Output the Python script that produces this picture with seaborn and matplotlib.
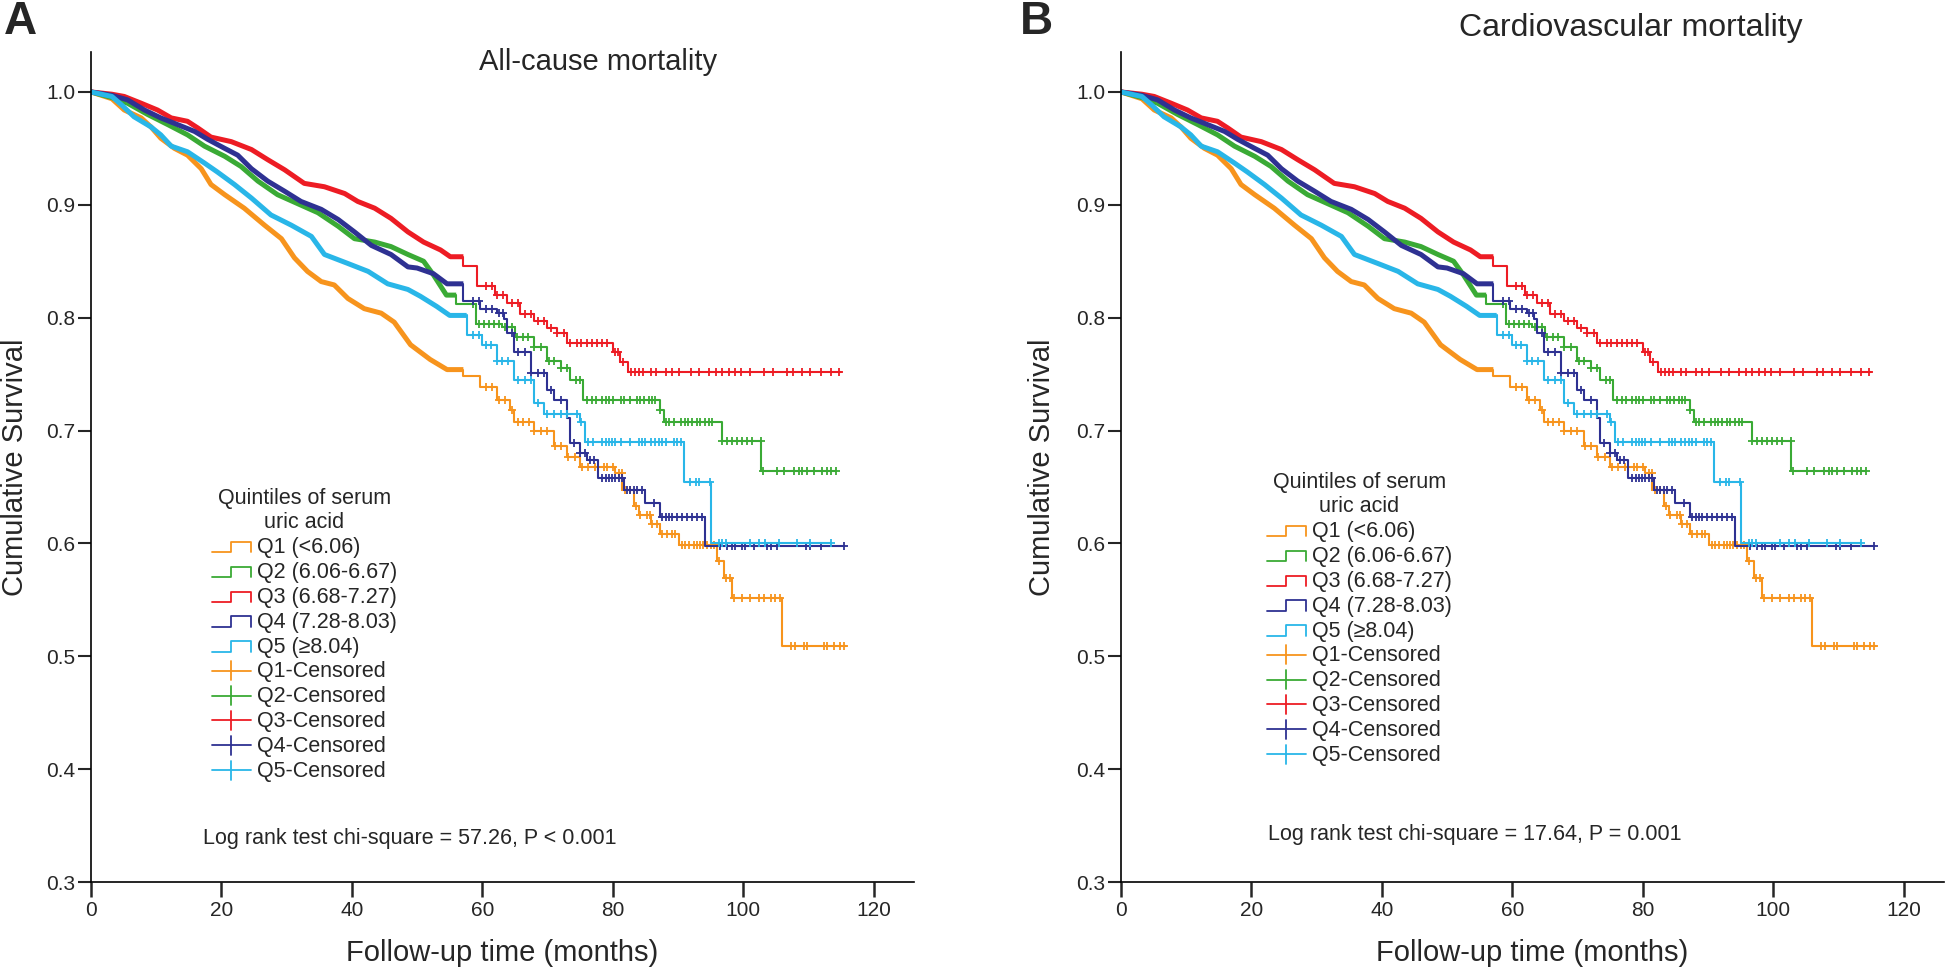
import numpy as np
import matplotlib
matplotlib.use("Agg")
import matplotlib.pyplot as plt
from matplotlib.lines import Line2D
from matplotlib.legend_handler import HandlerBase
import seaborn as sns

# Kaplan-Meier step curves (time in months, cumulative survival)
q1_t = [0, 3.2, 5.1, 7.7, 9.2, 10.7, 12.8, 14.8, 16.9, 18.4, 20.5, 23.5, 26.6, 29.2, 31.2, 33.2,
        35.3, 37.3, 39.4, 41.9, 44.5, 46.5, 49.0, 52.0, 54.6, 57.1, 59.7, 62.2, 64.3, 64.8, 68.0,
        71.0, 73.0, 75.0, 80.4, 81.5, 83.2, 84.0, 85.8, 87.3, 90.2, 96.0, 97.1, 98.3, 106.0, 115.7]
q1_s = [1.0, 0.994, 0.984, 0.977, 0.969, 0.959, 0.950, 0.944, 0.932, 0.918, 0.909, 0.897, 0.882,
        0.870, 0.853, 0.841, 0.832, 0.829, 0.817, 0.808, 0.804, 0.796, 0.776, 0.763, 0.754, 0.748,
        0.739, 0.727, 0.718, 0.708, 0.700, 0.686, 0.677, 0.668, 0.662, 0.647, 0.633, 0.625, 0.617,
        0.608, 0.599, 0.584, 0.569, 0.552, 0.509, 0.509]

q2_t = [0, 3.2, 5.6, 8.7, 11.8, 14.8, 17.4, 20.5, 23.0, 25.6, 28.6, 31.7, 34.8, 37.9, 40.4, 43.5,
        46.0, 48.6, 51.0, 52.5, 54.5, 56.0, 59.0, 63.0, 65.0, 68.0, 70.0, 72.0, 73.5, 75.5, 87.3,
        87.8, 96.8, 102.8, 114.2]
q2_s = [1.0, 0.995, 0.990, 0.980, 0.971, 0.962, 0.952, 0.943, 0.934, 0.921, 0.909, 0.901, 0.893,
        0.881, 0.870, 0.867, 0.863, 0.856, 0.850, 0.838, 0.820, 0.812, 0.794, 0.792, 0.783, 0.774,
        0.762, 0.755, 0.745, 0.727, 0.718, 0.708, 0.691, 0.664, 0.664]

q3_t = [0, 3.2, 5.1, 7.7, 10.2, 12.3, 14.8, 16.4, 18.4, 21.5, 24.6, 27.1, 29.7, 32.7, 35.8, 38.9,
        40.9, 43.5, 46.0, 48.6, 51.0, 53.6, 55.1, 57.1, 59.2, 62.0, 63.8, 65.8, 68.0, 69.9, 71.5,
        73.0, 80.0, 81.1, 82.4, 115.0]
q3_s = [1.0, 0.998, 0.996, 0.990, 0.984, 0.977, 0.974, 0.968, 0.960, 0.956, 0.949, 0.940, 0.931,
        0.919, 0.916, 0.910, 0.903, 0.897, 0.888, 0.876, 0.867, 0.860, 0.854, 0.846, 0.828, 0.820,
        0.813, 0.803, 0.797, 0.791, 0.786, 0.778, 0.770, 0.761, 0.752, 0.752]

q4_t = [0, 3.2, 5.6, 8.2, 10.7, 13.3, 15.9, 17.9, 20.5, 22.5, 24.6, 27.1, 29.7, 32.2, 35.3, 37.9,
        40.4, 43.0, 46.0, 48.6, 50.0, 52.5, 54.6, 57.1, 59.7, 62.2, 63.3, 63.8, 64.8, 67.4, 70.0,
        71.0, 73.0, 73.5, 75.0, 76.0, 77.8, 81.8, 85.0, 87.2, 94.2, 115.4]
q4_s = [1.0, 0.997, 0.993, 0.984, 0.977, 0.971, 0.965, 0.958, 0.950, 0.944, 0.932, 0.921, 0.912,
        0.903, 0.896, 0.887, 0.876, 0.864, 0.856, 0.845, 0.844, 0.839, 0.830, 0.815, 0.808, 0.804,
        0.799, 0.786, 0.770, 0.751, 0.736, 0.727, 0.711, 0.689, 0.680, 0.674, 0.658, 0.647, 0.636,
        0.623, 0.598, 0.598]

q5_t = [0, 3.2, 4.6, 6.6, 9.2, 10.7, 12.3, 14.8, 17.4, 19.4, 22.0, 24.6, 27.6, 30.7, 33.8, 35.8,
        39.4, 42.5, 45.5, 48.6, 50.5, 53.0, 55.0, 57.6, 60.0, 62.2, 64.8, 67.9, 69.5, 75.0, 75.8,
        91.0, 95.1, 113.5]
q5_s = [1.0, 0.996, 0.989, 0.978, 0.969, 0.962, 0.952, 0.947, 0.937, 0.929, 0.918, 0.906, 0.891,
        0.882, 0.872, 0.856, 0.848, 0.841, 0.830, 0.825, 0.819, 0.810, 0.802, 0.785, 0.776, 0.762,
        0.745, 0.724, 0.715, 0.708, 0.690, 0.654, 0.600, 0.600]

# censored observations that can be told apart (before these the marks merge into a band)
q1_cens = [60.5, 61.5, 62.5, 63.5, 64.5, 65.5, 66.3, 67.2, 68.0, 69.0, 70.0, 71.2, 72.0, 73.2,
           74.2, 75.3, 76.2, 77.3, 78.6, 79.1, 80.1, 80.9, 81.4, 81.9, 82.7, 83.5, 84.2, 85.3,
           85.7, 86.0, 86.8, 87.6, 88.3, 89.1, 89.6, 90.6, 91.1, 91.7, 92.4, 92.9, 93.4, 93.9,
           94.5, 95.0, 95.5, 96.3, 97.3, 98.0, 98.6, 99.8, 101.1, 102.4, 103.2, 104.2, 104.9,
           105.7, 107.3, 108.0, 109.3, 109.8, 112.4, 112.9, 113.9, 114.9, 115.4]
q2_cens = [58.5, 59.5, 60.2, 61.0, 61.8, 62.6, 63.5, 64.5, 65.3, 66.2, 67.0, 68.0, 69.0, 70.2,
           71.0, 72.0, 73.0, 74.3, 75.0, 76.0, 76.8, 77.5, 78.4, 78.9, 79.4, 80.1, 81.2, 81.7,
           82.7, 83.7, 84.2, 84.8, 85.5, 86.0, 86.5, 87.3, 88.1, 88.6, 89.4, 90.4, 91.1, 91.5,
           92.2, 92.9, 93.4, 94.1, 94.7, 95.2, 96.8, 97.5, 98.3, 99.1, 99.8, 100.6, 101.4, 102.7,
           103.1, 105.2, 106.2, 107.8, 108.5, 109.0, 109.8, 110.8, 112.1, 112.9, 113.5, 114.2]
q3_cens = [60.5, 61.5, 62.3, 63.2, 64.5, 65.5, 66.5, 67.5, 68.5, 69.5, 70.5, 71.5, 72.5, 73.5,
           74.5, 75.2, 76.0, 76.8, 77.6, 78.4, 79.2, 80.3, 80.8, 81.6, 82.8, 83.4, 84.0, 84.7,
           85.9, 86.6, 88.2, 89.1, 90.1, 92.0, 93.2, 94.7, 95.9, 96.8, 97.9, 98.8, 99.7, 101.1,
           103.2, 104.6, 106.8, 107.7, 109.1, 110.2, 112.0, 113.4, 114.7]
q4_cens = [58.5, 59.5, 60.5, 61.5, 62.5, 63.2, 64.5, 65.5, 66.5, 67.5, 68.5, 69.5, 70.5, 72.0,
           74.0, 75.0, 75.8, 76.5, 77.2, 78.4, 78.9, 79.4, 79.9, 80.4, 80.9, 81.4, 82.2, 82.7,
           83.2, 83.7, 84.5, 86.3, 87.6, 88.1, 88.6, 89.1, 89.9, 90.6, 91.4, 92.2, 92.9, 93.7,
           96.5, 97.5, 98.3, 98.8, 99.8, 100.3, 101.6, 103.7, 104.2, 105.2, 109.6, 110.3, 111.9,
           115.4]
q5_cens = [58.5, 59.5, 60.5, 61.3, 62.2, 63.0, 64.0, 65.5, 66.5, 67.5, 68.5, 70.0, 71.0, 72.0,
           73.0, 74.5, 75.2, 76.2, 77.0, 78.4, 78.9, 79.4, 79.9, 80.4, 81.2, 82.7, 84.0, 84.5,
           85.0, 85.8, 86.5, 87.1, 87.6, 88.1, 89.4, 89.9, 90.4, 91.9, 92.7, 93.2, 94.9, 96.3,
           96.8, 97.3, 101.1, 102.4, 103.4, 105.5, 108.3, 110.3, 113.4]

# month up to which the censor marks merge into a solid band
band_end = [57.1, 56.0, 57.1, 57.1, 57.6]

group_labels = ["Q1 (<6.06)", "Q2 (6.06-6.67)", "Q3 (6.68-7.27)", "Q4 (7.28-8.03)", "Q5 (\u22658.04)"]
censor_labels = ["Q1-Censored", "Q2-Censored", "Q3-Censored", "Q4-Censored", "Q5-Censored"]
colors = ["#F7941D", "#3AAA35", "#ED1C24", "#2E3192", "#29B6E8"]

panel_titles = ["All-cause mortality", "Cardiovascular mortality"]
panel_letters = ["A", "B"]
logrank_texts = ["Log rank test chi-square = 57.26, P < 0.001",
                 "Log rank test chi-square = 17.64, P = 0.001"]

curves = [(q1_t, q1_s, q1_cens), (q2_t, q2_s, q2_cens), (q3_t, q3_s, q3_cens),
          (q4_t, q4_s, q4_cens), (q5_t, q5_s, q5_cens)]

sns.set_style("white")
plt.rcParams["font.family"] = ["Liberation Sans", "DejaVu Sans"]


class StepHandler(HandlerBase):
    def create_artists(self, legend, orig, xd, yd, w, h, fontsize, trans):
        x0, x1 = -xd, -xd + w
        xm = x0 + 0.5 * w
        lo, hi = -yd + 0.05 * h, -yd + 0.75 * h
        ln = Line2D([x0, xm, xm, x1, x1], [lo, lo, hi, hi, lo], color=orig.get_color(),
                    lw=orig.get_linewidth(), transform=trans)
        return [ln]


class CensorHandler(HandlerBase):
    def create_artists(self, legend, orig, xd, yd, w, h, fontsize, trans):
        ym = -yd + 0.45 * h
        xm = -xd + 0.5 * w
        a = Line2D([-xd, -xd + w], [ym, ym], color=orig.get_color(), lw=orig.get_linewidth(),
                   transform=trans)
        b = Line2D([xm, xm], [ym - 0.44 * fontsize, ym + 0.44 * fontsize], color=orig.get_color(),
                   lw=orig.get_linewidth(), transform=trans)
        return [a, b]


W, H = 1946, 971
fig = plt.figure(figsize=(W / 100, H / 100), dpi=100)

ax_left = [91, 1121]
legend_pos = [(212, 488), (1267, 472)]
title_pos = [(598, 62, 21), (1631, 28, 23)]
letter_x = [4, 1020]
ylabel_x = [15, 1042]
logrank_x = [0.136, 0.179]
logrank_y = [0.052, 0.057]

for p in range(2):
    ax = fig.add_axes([ax_left[p] / W, 89 / H, 823 / W, 830 / H])
    for i, (t, s, cens) in enumerate(curves):
        t = np.array(t)
        s = np.array(s)
        m = t < band_end[i]
        # early part: many tiny steps plus merged censor marks read as a thick band
        tb = np.append(t[m], band_end[i])
        sb = np.append(s[m], s[m][-1])
        sns.lineplot(x=tb, y=sb, color=colors[i], linewidth=3.6, estimator=None, sort=False,
                     ax=ax, legend=False, solid_joinstyle="round", solid_capstyle="butt")
        # later part: plain steps
        tl = np.insert(t[~m], 0, band_end[i])
        sl = np.insert(s[~m], 0, s[m][-1])
        sns.lineplot(x=tl, y=sl, drawstyle="steps-post", color=colors[i], linewidth=1.5,
                     estimator=None, sort=False, ax=ax, legend=False)
        c = np.array(cens)
        sc = s[np.searchsorted(t, c, side="right") - 1]
        ax.plot(c, sc, ls="none", marker="+", ms=5.5, mew=1.3, color=colors[i])

    ax.set_xlim(0, 126.2)
    ax.set_ylim(0.3, 1.0354)
    ax.set_xticks(np.arange(0, 121, 20))
    ax.set_yticks(np.arange(0.3, 1.01, 0.1))
    ax.set_yticklabels([f"{v:.1f}" for v in np.arange(0.3, 1.01, 0.1)])
    sns.despine(ax=ax)
    for sp in ("left", "bottom"):
        ax.spines[sp].set_linewidth(1.2)
        ax.spines[sp].set_color("black")
    ax.tick_params(axis="y", direction="out", length=9.4, width=1.5, pad=2, labelsize=15,
                   left=True)
    ax.tick_params(axis="x", direction="out", length=10.8, width=1.8, pad=3, labelsize=15,
                   bottom=True)
    ax.set_ylabel("Cumulative Survival", fontsize=21, va="center")
    ax.yaxis.set_label_coords((ylabel_x[p] - ax_left[p]) / 823, 0.5)
    ax.set_xlabel("Follow-up time (months)", fontsize=21, va="center")
    ax.xaxis.set_label_coords(0.5, -0.0855)

    ax.text(logrank_x[p], logrank_y[p], logrank_texts[p], transform=ax.transAxes,
            fontsize=15.5, ha="left", va="center")

    step_h = [Line2D([], [], color=col, lw=1.3) for col in colors]
    cens_h = [Line2D([], [], color=col, lw=1.3) for col in colors]
    hmap = {h: StepHandler() for h in step_h}
    hmap.update({h: CensorHandler() for h in cens_h})
    lx, ly = legend_pos[p]
    leg = ax.legend(step_h + cens_h, group_labels + censor_labels, handler_map=hmap,
                    title="Quintiles of serum\nuric acid", fontsize=15.5, title_fontsize=15.5,
                    frameon=False, loc="upper left", bbox_to_anchor=(lx / W, 1 - ly / H),
                    bbox_transform=fig.transFigure, borderpad=0, borderaxespad=0,
                    handlelength=1.8, handletextpad=0.28, labelspacing=0.18)
    leg.get_title().set_multialignment("center")

    tx, ty, tfs = title_pos[p]
    fig.text(tx / W, 1 - ty / H, panel_titles[p], fontsize=tfs, ha="center", va="center")
    fig.text(letter_x[p] / W, 1.0, panel_letters[p], fontsize=33, fontweight="bold",
             ha="left", va="top")

fig.savefig("out.png", dpi=100)
